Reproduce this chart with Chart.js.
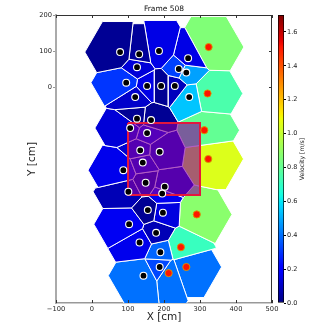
<!DOCTYPE html>
<html>
<head>
<meta charset="utf-8">
<script src="https://cdn.jsdelivr.net/npm/chart.js@4.4.1/dist/chart.umd.min.js"></script>
<style>
  html, body { margin: 0; padding: 0; background: #fff; }
  #wrap { position: relative; width: 332px; height: 332px; }
  #main { position: absolute; left: 0; top: 0; }
  #bar { position: absolute; left: 270px; top: 0; }
</style>
</head>
<body>
<div id="wrap">
  <canvas id="main" width="332" height="332"></canvas>
  <canvas id="bar" width="62" height="332"></canvas>
</div>
<script>
// Posisi agen (cm)
const agentX = [78, 131, 186, 125, 95, 153, 192, 120, 267, 241, 262, 230, 270,
                125, 164, 106, 153, 134, 188, 141, 87, 149, 202, 101, 195,
                155, 197, 103, 178, 132, 190, 188, 143,
                324, 321, 312, 323, 213, 291, 247, 262];
const agentY = [97, 91, 100, 55, 12, 3, 3, -28, 80, 50, 40, 3, -28,
                -88, -92, -114, -128, -176, -180, -210, -231, -266, -277, -291, -296,
                -342, -349, -381, -405, -432, -459, -500, -524,
                111, -18, -120, -200, -517, -354, -445, -500];
// Kecepatan tiap agen (m/s)
const agentV = [0.03, 0.04, 0.15, 0.13, 0.30, 0.15, 0.03, 0.11, 0.15, 0.32, 0.48, 0.09, 0.54,
                0.03, 0.03, 0.13, 0.15, 0.12, 0.10, 0.12, 0.16, 0.06, 0.10, 0.08, 0.17,
                0.03, 0.14, 0.17, 0.08, 0.16, 0.38, 0.33, 0.40,
                0.86, 0.75, 0.80, 1.05, 0.40, 0.88, 0.71, 0.40];
// Agen bertanda merah
const agentRed = [0, 0, 0, 0, 0, 0, 0, 0, 0, 0, 0, 0, 0,
                  0, 0, 0, 0, 0, 0, 0, 0, 0, 0, 0, 0,
                  0, 0, 0, 0, 0, 0, 0, 0,
                  1, 1, 1, 1, 1, 1, 1, 1];
// Daerah pengukuran (cm)
const regionX = [100, 300];
const regionY = [-300, -100];

const yTicks = [0, 100, 200];
const cbTicks = [0, 0.2, 0.4, 0.6, 0.8, 1.0, 1.2, 1.4, 1.6];
const vMax = 1.7;
const cellRadius = 98;

function jet(t) {
  t = Math.min(1, Math.max(0, t));
  const interp = pts => {
    for (let i = 1; i < pts.length; i++) {
      if (t <= pts[i][0]) {
        const [x0, y0] = pts[i - 1], [x1, y1] = pts[i];
        return y0 + (y1 - y0) * (t - x0) / (x1 - x0);
      }
    }
    return pts[pts.length - 1][1];
  };
  const r = interp([[0, 0], [0.35, 0], [0.66, 1], [0.89, 1], [1, 0.5]]);
  const g = interp([[0, 0], [0.125, 0], [0.375, 1], [0.64, 1], [0.91, 0], [1, 0]]);
  const b = interp([[0, 0.5], [0.11, 1], [0.34, 1], [0.65, 0], [1, 0]]);
  return `rgb(${Math.round(r * 255)},${Math.round(g * 255)},${Math.round(b * 255)})`;
}

// Sel Voronoi: heksagon dipotong oleh garis bagi tiap pasangan agen
function clipHalf(poly, px, py, qx, qy) {
  const nx = qx - px, ny = qy - py;
  const c = (qx * qx + qy * qy - px * px - py * py) / 2;
  const side = p => nx * p[0] + ny * p[1] - c;
  const out = [];
  for (let i = 0; i < poly.length; i++) {
    const a = poly[i], b = poly[(i + 1) % poly.length];
    const sa = side(a), sb = side(b);
    if (sa <= 0) out.push(a);
    if ((sa <= 0) !== (sb <= 0)) {
      const t = sa / (sa - sb);
      out.push([a[0] + t * (b[0] - a[0]), a[1] + t * (b[1] - a[1])]);
    }
  }
  return out;
}

function cellOf(i) {
  let poly = [];
  for (let k = 0; k < 6; k++) {
    const a = k * Math.PI / 3;
    poly.push([agentX[i] + cellRadius * Math.cos(a), agentY[i] + cellRadius * Math.sin(a)]);
  }
  for (let j = 0; j < agentX.length; j++) {
    if (j === i || poly.length === 0) continue;
    poly = clipHalf(poly, agentX[i], agentY[i], agentX[j], agentY[j]);
  }
  const pts = poly.map(p => ({x: p[0], y: p[1]}));
  pts.push(pts[0]);
  return pts;
}

const cellSets = agentX.map((_, i) => ({
  data: cellOf(i),
  showLine: true,
  fill: 'shape',
  backgroundColor: jet(agentV[i] / vMax),
  borderColor: '#ffffff',
  borderWidth: 1,
  pointRadius: 0,
  pointHitRadius: 0,
  tension: 0,
  order: 2
}));

const regionSet = {
  data: [
    {x: regionX[0], y: regionY[1]}, {x: regionX[1], y: regionY[1]},
    {x: regionX[1], y: regionY[0]}, {x: regionX[0], y: regionY[0]},
    {x: regionX[0], y: regionY[1]}
  ],
  showLine: true,
  fill: 'shape',
  backgroundColor: 'rgba(135,0,160,0.63)',
  borderColor: '#e3173e',
  borderWidth: 2,
  pointRadius: 0,
  tension: 0,
  order: 1
};

const blackSet = {
  data: agentX.map((x, i) => ({x, y: agentY[i]})).filter((_, i) => !agentRed[i]),
  pointRadius: 3.45,
  pointBorderWidth: 1.1,
  pointBackgroundColor: '#000',
  pointBorderColor: '#fff',
  order: 0
};

const redSet = {
  data: agentX.map((x, i) => ({x, y: agentY[i]})).filter((_, i) => agentRed[i]),
  pointRadius: 3.6,
  pointBorderWidth: 0.9,
  pointBackgroundColor: '#ff1500',
  pointBorderColor: '#d89a00',
  order: 0
};

const tickFont = {family: 'DejaVu Sans', size: 6.7};

// Bingkai atas/kanan dan tanda tick ke dalam
const framePlugin = {
  id: 'frame',
  afterDraw(chart) {
    const {ctx, chartArea: a, scales: {x, y}} = chart;
    ctx.save();
    ctx.strokeStyle = '#333';
    ctx.lineWidth = 1;
    ctx.beginPath();
    ctx.moveTo(a.left, a.top + 0.5); ctx.lineTo(a.right, a.top + 0.5);
    ctx.moveTo(a.right - 0.5, a.top); ctx.lineTo(a.right - 0.5, a.bottom);
    x.ticks.forEach(t => {
      const px = Math.round(x.getPixelForValue(t.value)) + 0.5;
      ctx.moveTo(px, a.top); ctx.lineTo(px, a.top + 3);
      ctx.moveTo(px, a.bottom); ctx.lineTo(px, a.bottom - 3);
    });
    y.ticks.forEach(t => {
      const py = Math.round(y.getPixelForValue(t.value)) + 0.5;
      ctx.moveTo(a.right, py); ctx.lineTo(a.right - 3, py);
    });
    ctx.stroke();
    ctx.restore();
  }
};

new Chart(document.getElementById('main'), {
  type: 'scatter',
  data: {datasets: [blackSet, redSet, regionSet, ...cellSets]},
  options: {
    responsive: false,
    animation: false,
    devicePixelRatio: 1,
    layout: {padding: {left: 0, right: 60, top: 0, bottom: 0}},
    plugins: {
      legend: {display: false},
      tooltip: {enabled: false},
      title: {
        display: true,
        text: 'Frame 508',
        fullSize: false,
        color: '#111',
        font: {family: 'DejaVu Sans', size: 7.5, weight: 'normal'},
        padding: {top: 5, bottom: 1}
      }
    },
    scales: {
      x: {
        type: 'linear',
        min: -100,
        max: 500,
        afterFit: s => { s.height = 29; },
        ticks: {
          stepSize: 100,
          autoSkip: false,
          maxRotation: 0,
          padding: 2,
          color: '#222',
          font: tickFont,
          callback: v => String(v).replace('-', '\u2212')
        },
        grid: {display: false, drawTicks: false},
        border: {color: '#999', width: 1.5},
        title: {
          display: true,
          text: 'X [cm]',
          color: '#222',
          font: {family: 'DejaVu Sans', size: 10.5},
          padding: {top: 0, bottom: 8}
        }
      },
      y: {
        type: 'linear',
        min: -600,
        max: 200,
        afterFit: s => { s.width = 56; },
        afterBuildTicks: s => { s.ticks = yTicks.map(v => ({value: v})); },
        ticks: {padding: 1, color: '#222', font: tickFont},
        grid: {drawOnChartArea: false, drawTicks: true, tickLength: 3, color: '#999'},
        border: {color: '#aaa', width: 2},
        title: {
          display: true,
          text: 'Y [cm]',
          color: '#222',
          font: {family: 'DejaVu Sans', size: 10.5},
          padding: {top: 26, bottom: 0}
        }
      }
    }
  },
  plugins: [framePlugin]
});

// Colorbar kecepatan
const cbLabelPlugin = {
  id: 'cbLabel',
  afterDraw(chart) {
    const {ctx, chartArea: a} = chart;
    ctx.save();
    ctx.translate(32, (a.top + a.bottom) / 2);
    ctx.rotate(-Math.PI / 2);
    ctx.fillStyle = '#222';
    ctx.font = '6.2px "DejaVu Sans"';
    ctx.textAlign = 'center';
    ctx.textBaseline = 'middle';
    ctx.fillText('Velocity [m/s]', 0, 0);
    ctx.restore();
  }
};

new Chart(document.getElementById('bar'), {
  type: 'bar',
  data: {
    labels: ['v'],
    datasets: [{
      data: [[0, vMax]],
      backgroundColor: ctx => {
        const chart = ctx.chart;
        const a = chart.chartArea;
        if (!a) return '#00f';
        const g = chart.ctx.createLinearGradient(0, a.bottom, 0, a.top);
        for (let i = 0; i <= 100; i++) g.addColorStop(i / 100, jet(i / 100));
        return g;
      },
      borderColor: '#000',
      borderWidth: 1,
      borderSkipped: false,
      barPercentage: 1,
      categoryPercentage: 1
    }]
  },
  options: {
    responsive: false,
    animation: false,
    devicePixelRatio: 1,
    layout: {padding: {left: 8, top: 15, bottom: 29, right: 0}},
    plugins: {legend: {display: false}, tooltip: {enabled: false}},
    scales: {
      x: {display: false},
      y: {
        position: 'right',
        min: 0,
        max: vMax,
        afterFit: s => { s.width = 48; },
        afterBuildTicks: s => { s.ticks = cbTicks.map(v => ({value: v})); },
        ticks: {padding: 1, color: '#222', font: {family: 'DejaVu Sans', size: 6.5}, callback: v => v.toFixed(1)},
        grid: {drawOnChartArea: false, tickLength: 2, color: '#000'},
        border: {display: false}
      }
    }
  },
  plugins: [cbLabelPlugin]
});
</script>
</body>
</html>
